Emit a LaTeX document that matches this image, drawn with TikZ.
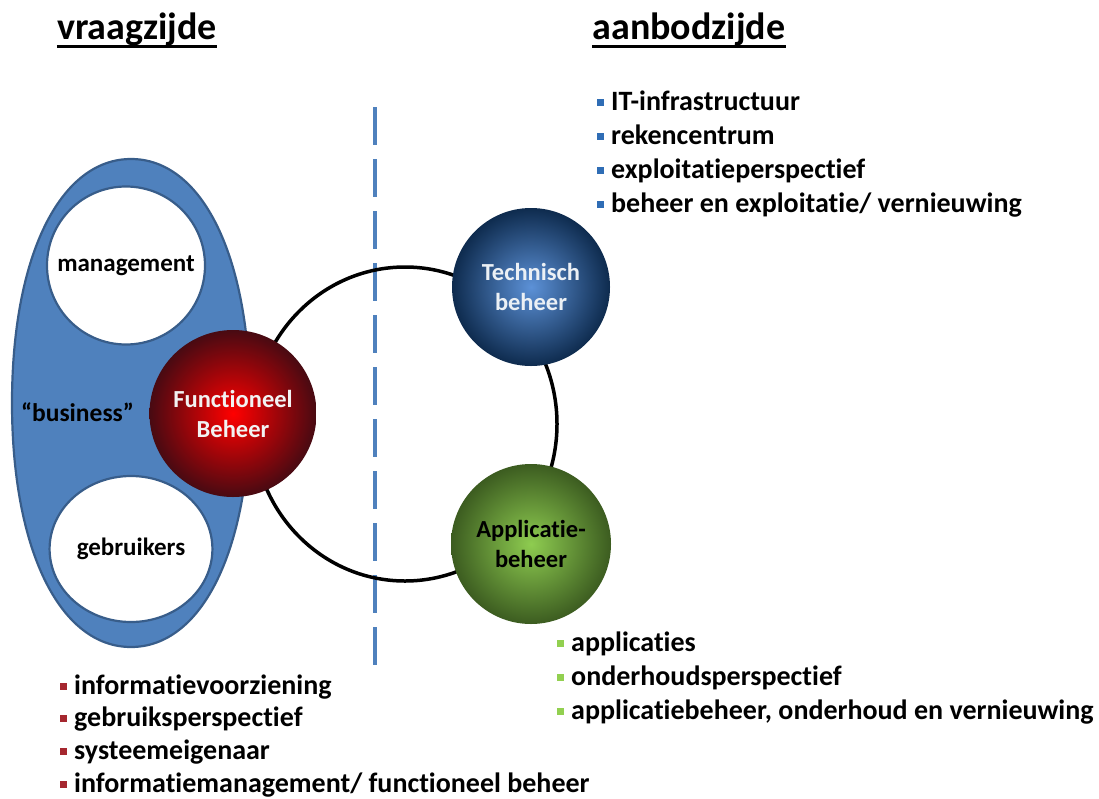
\documentclass[tikz,border=0pt]{standalone}
\usepackage{fontspec}
\setmainfont{Carlito}[Ligatures=NoCommon]
\usetikzlibrary{shapes.geometric}

\definecolor{elblauw}{HTML}{4F81BD}
\definecolor{elrand}{HTML}{385D8A}
\definecolor{puntrood}{HTML}{A5272F}
\definecolor{puntblauw}{HTML}{2F6DB5}
\definecolor{puntgroen}{HTML}{92D050}
\newcommand{\punt}[1]{\textcolor{#1}{\rule[4.5pt]{7pt}{7pt}}\hspace{7pt}}

\tikzset{
	kop/.style={inner sep=0pt, anchor=base, font=\fontsize{38}{44}\selectfont\bfseries},
	wit/.style={circle, draw=elrand, line width=2.2pt, fill=white, minimum size=158pt,
		font=\fontsize{25}{30}\selectfont\bfseries},
	bol/.style={circle, minimum size=162pt, inner sep=0pt, align=center, shade, shading=radial,
		font=\fontsize{24.5}{30}\selectfont\bfseries},
	lijst/.style={anchor=base west, inner sep=0pt, font=\fontsize{28}{33}\selectfont\bfseries}
}

\begin{document}
\begin{tikzpicture}[x=1pt,y=-1pt]
	\useasboundingbox (0,0) rectangle (1099,798);
	% koppen
	\node[kop] (vraag) at (137,39) {vraagzijde};
	\node[kop] (aanbod) at (689,39) {aanbodzijde};
	\draw[line width=2.8pt] ([yshift=-0.5pt]vraag.south west) -- ([yshift=-0.5pt]vraag.south east);
	\draw[line width=2.8pt] ([yshift=-0.5pt]aanbod.south west) -- ([yshift=-0.5pt]aanbod.south east);
	% scheiding
	\draw[elblauw, line width=4pt, dash pattern=on 38pt off 14pt] (375,107) -- (375,665);
	% vraagzijde
	\draw[elrand, line width=2.2pt, fill=elblauw] (12,403) .. controls (12,256) and (60,159) .. (131,159)
		.. controls (202,159) and (250,256) .. (250,403)
		.. controls (250,550) and (202,647) .. (131,647)
		.. controls (60,647) and (12,550) .. (12,403) -- cycle;
	\node[wit] (mgmt) at (126,265.5) {management};
	\node[wit, ellipse, minimum width=154pt, minimum height=146pt] (gebr) at (131,549) {gebruikers};
	\node[font=\fontsize{25.5}{30}\selectfont\bfseries] (bus) at (77.5,412) {“business”};
	% ring en bollen
	\node[ellipse, draw, line width=3.5pt, minimum width=304pt, minimum height=314pt] (ring) at (405,424) {};
	\node[bol, minimum size=167pt, inner color=red, outer color={rgb,255:red,72;green,10;blue,18}, text={rgb,255:red,242;green,242;blue,242}] (fb) at (233,413.5) {Functioneel\\Beheer};
	\node[bol, minimum size=158pt, inner color={rgb,255:red,92;green,145;blue,215}, outer color={rgb,255:red,14;green,43;blue,78}, text={rgb,255:red,235;green,240;blue,245}] (tb) at (531,287) {Technisch\\beheer};
	\node[bol, minimum size=160pt, inner color={rgb,255:red,142;green,204;blue,80}, outer color={rgb,255:red,60;green,92;blue,32}, text=black] (ab) at (531,544) {Applicatie-\\beheer};
	% lijsten
	\foreach \tekst [count=\i] in {IT-infrastructuur, rekencentrum, exploitatieperspectief, beheer en exploitatie/ vernieuwing}
		\node[lijst] (tl\i) at (597,76+34*\i) {\punt{puntblauw}\tekst};
	\foreach \tekst [count=\i] in {applicaties, onderhoudsperspectief, {applicatiebeheer, onderhoud en vernieuwing}}
		\node[lijst] (al\i) at (557,617+34*\i) {\punt{puntgroen}\tekst};
	\foreach \tekst [count=\i] in {informatievoorziening, gebruiksperspectief, systeemeigenaar, informatiemanagement/ functioneel beheer}
		\node[lijst] (fl\i) at (60,661.3+32.7*\i) {\punt{puntrood}\tekst};
\end{tikzpicture}
\end{document}
